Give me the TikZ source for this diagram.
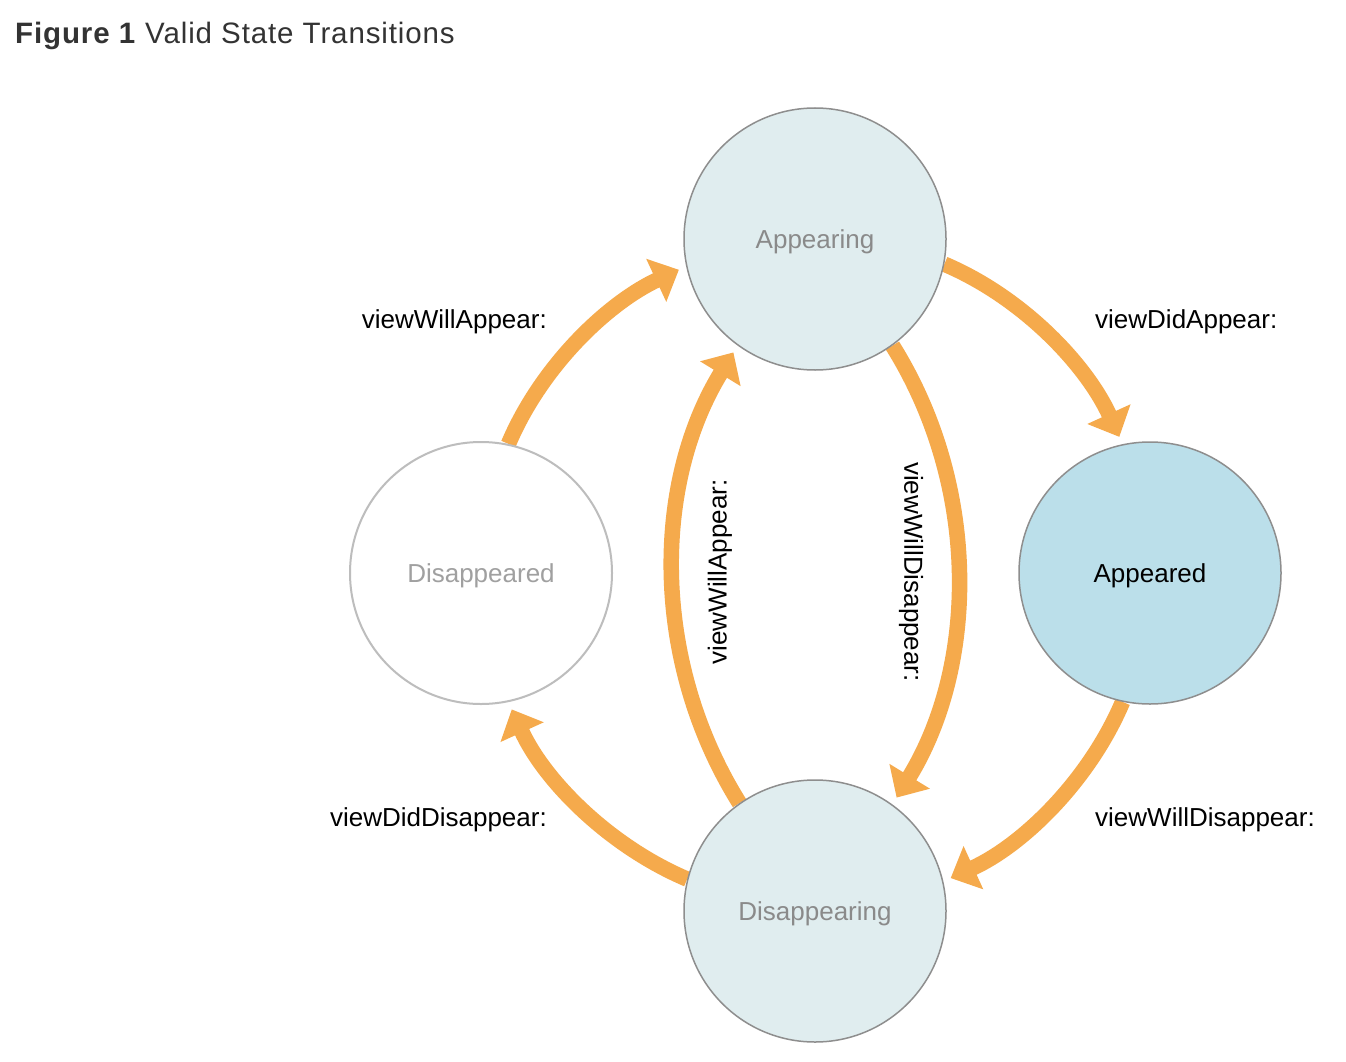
\documentclass[tikz,border=0pt]{standalone}
\usepackage{fontspec}
\setmainfont{Liberation Sans}
\usetikzlibrary{arrows.meta}
\definecolor{arr}{HTML}{F5AA4C}
\definecolor{ringgray}{HTML}{8E8E8E}
\definecolor{lightring}{HTML}{BDBDBD}
\definecolor{appfill}{HTML}{E0EDEF}
\definecolor{apdfill}{HTML}{BBDFEA}
\definecolor{statetext}{HTML}{8A8A8A}
\definecolor{faintext}{HTML}{A0A0A0}
\definecolor{titlecol}{HTML}{333333}
\pgfdeclarelayer{bg}
\pgfdeclarelayer{paper}
\pgfsetlayers{paper,bg,main}
\begin{document}
\begin{tikzpicture}[x=1pt,y=1pt,
  state/.style={circle, draw=ringgray, line width=1.5pt, minimum size=262pt, inner sep=0pt,
    font=\fontsize{26}{30}\selectfont, text height=18.6pt, text depth=0pt},
  trans/.style={draw=arr, line width=15.5pt, shorten >=8pt,
    -{Triangle[length=25pt,width=46pt]}},
  lbl/.style={font=\fontsize{26}{30}\selectfont, inner sep=0pt, text=black},
  hlbl/.style={lbl, text height=18.6pt, text depth=0pt}]
\begin{pgfonlayer}{paper}
\fill[white] (0,0) rectangle (1346,-1062);
\end{pgfonlayer}
\useasboundingbox (0,0) rectangle (1346,-1062);

\node[anchor=base west, inner sep=0pt, text=titlecol,
  font=\fontsize{29.5}{34}\selectfont\addfontfeatures{LetterSpace=3}] (title) at (15,-44)
  {\textbf{Figure 1} Valid State Transitions};

\node[state, fill=appfill, text=statetext] (app) at (815,-239) {Appearing};
\node[state, fill=apdfill, text=black] (apd) at (1150,-573) {Appeared};
\node[state, fill=white, draw=lightring, line width=2pt, text=faintext] (dsd) at (481,-573) {Disappeared};
\node[state, fill=appfill, text=statetext] (dsg) at (815,-911) {Disappearing};

\begin{pgfonlayer}{bg}
\draw[trans] (dsd.78.5) to[out=67,in=205,looseness=0.87] (app.192);
\draw[trans] (app.-11.5) to[out=-23,in=114.5,looseness=0.87] (apd.102.7);
\draw[trans] (apd.258) to[out=-113,in=24.5,looseness=0.87] (dsg.13.8);
\draw[trans] (dsg.166.8) to[out=157,in=-65.5,looseness=0.87] (dsd.282.3);
\draw[trans] (dsg.125.5) to[out=122,in=238.5,looseness=0.92] (app.234);
\draw[trans] (app.-54.5) to[out=302,in=58.5,looseness=0.92] (dsg.54);
\end{pgfonlayer}

\node[hlbl, anchor=east] (l1) at (547,-319) {viewWillAppear:};
\node[hlbl, anchor=west] (l2) at (1095,-319) {viewDidAppear:};
\node[hlbl, anchor=east] (l3) at (547,-817) {viewDidDisappear:};
\node[hlbl, anchor=west] (l4) at (1095,-817) {viewWillDisappear:};
\node[lbl, rotate=90] (l5) at (720,-572) {viewWillAppear:};
\node[lbl, rotate=-90] (l6) at (911,-572) {viewWillDisappear:};
\end{tikzpicture}
\end{document}
